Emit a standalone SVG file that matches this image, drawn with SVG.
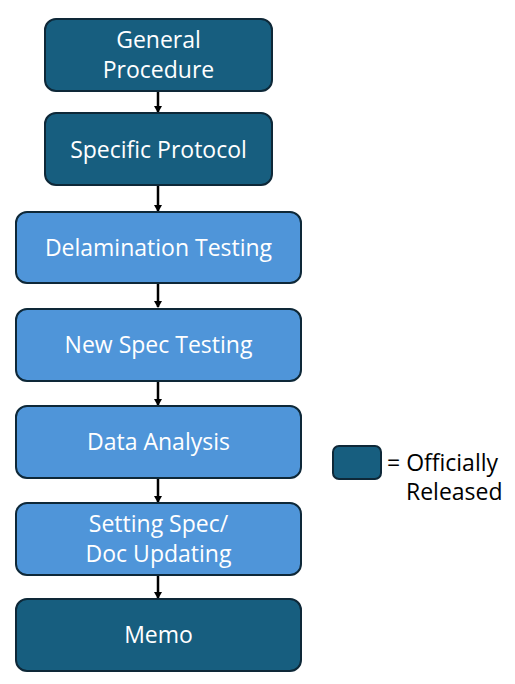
<svg xmlns="http://www.w3.org/2000/svg" width="515" height="684" viewBox="0 0 515 684">
<style>
.dark{fill:#175E7F;stroke:#0E2838;stroke-width:2}
.light{fill:#4F95D9;stroke:#0E2838;stroke-width:2}
.t{font-family:"Open Sans","DejaVu Sans",sans-serif;font-size:23px;fill:#ffffff;text-anchor:middle}
.lg{font-family:"Open Sans","DejaVu Sans",sans-serif;font-size:23px;fill:#000000}
.c{stroke:#000;stroke-width:2.5;fill:none;marker-end:url(#ah)}
</style>
<defs>
<marker id="ah" markerWidth="8" markerHeight="8" refX="6" refY="4" orient="auto" markerUnits="userSpaceOnUse"><path d="M0,0 L7,4 L0,8 Z" fill="#000"/></marker>
</defs>
<rect width="515" height="684" fill="#ffffff"/>
<g id="connectors">
<line class="c" x1="158" y1="92" x2="158" y2="112"/>
<line class="c" x1="158" y1="186" x2="158" y2="211"/>
<line class="c" x1="158" y1="284" x2="158" y2="307"/>
<line class="c" x1="158" y1="382" x2="158" y2="405"/>
<line class="c" x1="158" y1="479" x2="158" y2="502"/>
<line class="c" x1="158" y1="576" x2="158" y2="598"/>
</g>
<g id="n1"><rect class="dark" x="45" y="19" width="227" height="72" rx="11"/><text class="t" x="158.5" y="48">General</text><text class="t" x="158.5" y="78">Procedure</text></g>
<g id="n2"><rect class="dark" x="45" y="113" width="227" height="72" rx="11"/><text class="t" x="158.5" y="158">Specific Protocol</text></g>
<g id="n3"><rect class="light" x="16" y="212" width="285" height="71" rx="11"/><text class="t" x="158.5" y="256">Delamination Testing</text></g>
<g id="n4"><rect class="light" x="16" y="309" width="285" height="72" rx="11"/><text class="t" x="158.5" y="353">New Spec Testing</text></g>
<g id="n5"><rect class="light" x="16" y="406" width="285" height="72" rx="11"/><text class="t" x="158.5" y="450">Data Analysis</text></g>
<g id="n6"><rect class="light" x="16" y="503" width="285" height="72" rx="11"/><text class="t" x="158.5" y="532">Setting Spec/</text><text class="t" x="158.5" y="562">Doc Updating</text></g>
<g id="n7"><rect class="dark" x="16" y="599" width="285" height="72" rx="11"/><text class="t" x="158.5" y="643">Memo</text></g>
<g id="legend"><rect class="dark" x="333" y="446" width="48" height="33" rx="6"/><text class="lg" x="387" y="471">= Officially</text><text class="lg" x="406" y="500">Released</text></g>
</svg>
